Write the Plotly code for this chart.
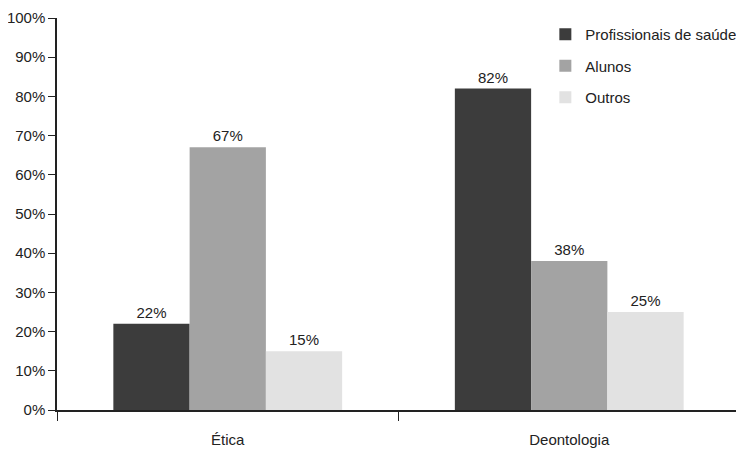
import plotly.graph_objects as go

categories = ["Ética", "Deontologia"]
series_names = ["Profissionais de saúde", "Alunos", "Outros"]
profissionais = [22, 82]
alunos = [67, 38]
outros = [15, 25]
y_ticks = [0, 10, 20, 30, 40, 50, 60, 70, 80, 90, 100]
y_tick_labels = [f"{t}%" for t in y_ticks]

colors = ["#3c3c3c", "#a3a3a3", "#e2e2e2"]
values = [profissionais, alunos, outros]

fig = go.Figure()
for name, vals, col in zip(series_names, values, colors):
    fig.add_trace(go.Bar(
        x=categories, y=vals, name=name, legendgroup=name,
        marker=dict(color=col, line=dict(width=0)),
        text=[f"{v}%" for v in vals], textposition="outside",
        textfont=dict(size=15, color="#222"),
        cliponaxis=False,
    ))

# page body has an 8px default margin, so the figure is 8px smaller on each axis
fig.update_layout(
    width=736, height=443,
    margin=dict(l=49, r=4, t=10, b=41, autoexpand=False),
    paper_bgcolor="white", plot_bgcolor="white",
    font=dict(family="Liberation Sans, Arial, sans-serif", size=15, color="#222"),
    barmode="group", bargap=0.33, bargroupgap=0,
    legend=dict(x=0.715, y=1.0, xanchor="left", yanchor="top",
                font=dict(size=15), bgcolor="rgba(0,0,0,0)", tracegroupgap=9),
    showlegend=True,
)
fig.update_yaxes(range=[0, 100], tickvals=y_ticks, ticktext=y_tick_labels,
                 showgrid=False, zeroline=False, showline=True, linecolor="#222",
                 linewidth=1.5, ticks="outside", ticklen=7, tickcolor="#222",
                 automargin=False, tickfont=dict(size=15))
fig.update_xaxes(showgrid=False, showline=True, linecolor="#222", linewidth=1.5,
                 ticks="outside", tickson="boundaries", ticklen=9, tickcolor="#222",
                 ticklabelstandoff=15, automargin=False, tickfont=dict(size=15))

fig.write_html("out.html")
